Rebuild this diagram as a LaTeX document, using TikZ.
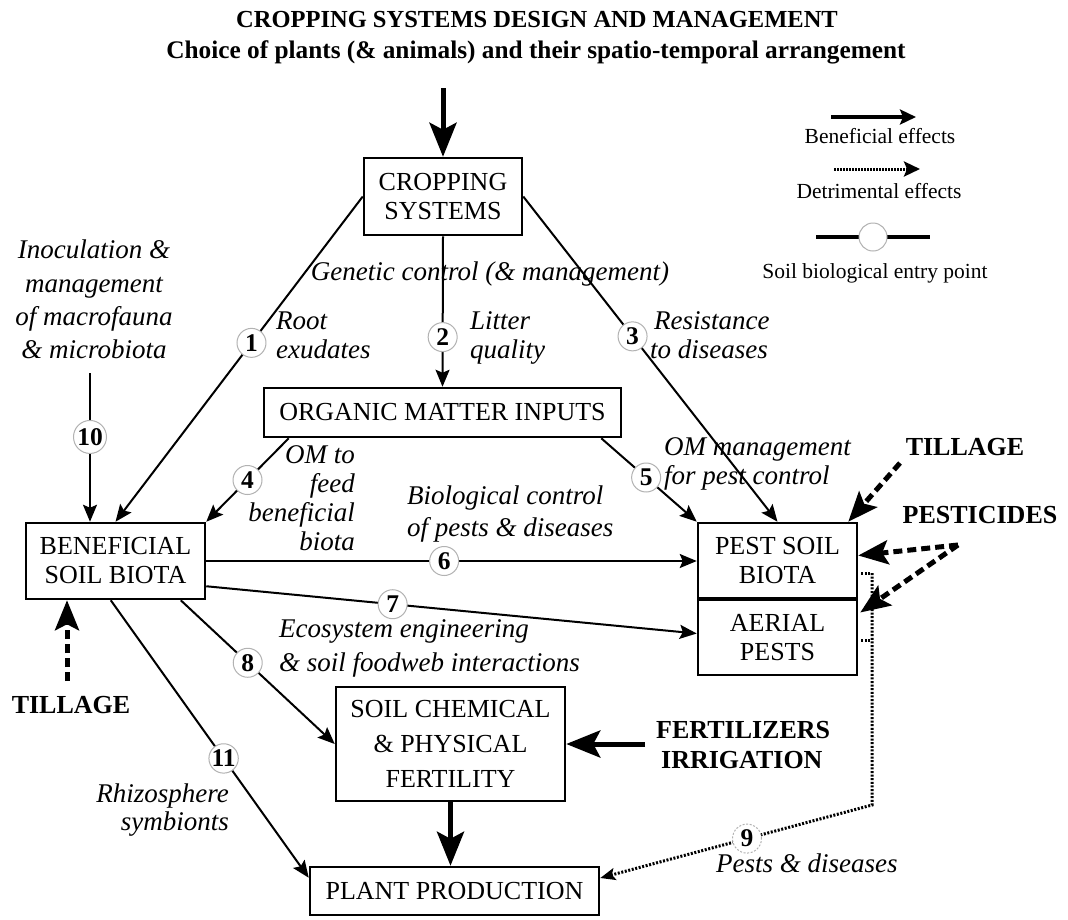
\documentclass[tikz,border=0pt]{standalone}
\usepackage{fontspec}
\setmainfont{Liberation Serif}
\usetikzlibrary{arrows.meta,calc}
\begin{document}
\begin{tikzpicture}[x=1pt,y=-1pt,
  box/.style={draw,line width=2.5pt,fill=white,align=center,inner sep=0pt,font=\fontsize{26}{29}\selectfont},
  lab/.style={inner sep=0pt,font=\fontsize{27}{29}\selectfont\itshape},
  ext/.style={inner sep=0pt,font=\fontsize{26}{30}\selectfont\bfseries},
  leg/.style={inner sep=0pt,font=\fontsize{21.5}{24}\selectfont},
  num/.style={circle,draw=black!30,line width=1pt,fill=white,inner sep=0pt,minimum size=29pt,font=\fontsize{25.5}{25.5}\selectfont\bfseries},
  arr/.style={line width=2pt,-{Stealth[length=17pt,width=14pt,inset=3pt]}},
  bigarr/.style={line width=5pt,-{Stealth[length=34pt,width=27pt,inset=7pt]}},
  dasharr/.style={line width=5pt,dash pattern=on 9pt off 5pt,-{Stealth[length=30pt,width=24pt,inset=6pt]}},
  dotline/.style={line width=3pt,dash pattern=on 2pt off 1.6pt},
  dotarr/.style={dotline,-{Stealth[length=15pt,width=12pt,inset=3pt]}},
]
\useasboundingbox (0,0) rectangle (1068,919);
\fill[white] (0,0) rectangle (1068,919);

% title
\node[inner sep=0pt,font=\fontsize{24.5}{28}\selectfont\bfseries,anchor=base] (t1) at (537,27) {CROPPING SYSTEMS DESIGN AND MANAGEMENT};
\node[inner sep=0pt,font=\fontsize{25.3}{28}\selectfont\bfseries,anchor=base] (t2) at (536,58) {Choice of plants (\& animals) and their spatio-temporal arrangement};

% legend
\coordinate (lb1) at (831,117); \coordinate (lb2) at (916,117);
\draw[line width=4pt,-{Stealth[length=16pt,width=15pt,inset=3pt]}] (lb1) -- (lb2);
\node[leg,anchor=base] (lbt) at (880,143) {Beneficial effects};
\coordinate (ld1) at (834,169); \coordinate (ld2) at (920,169);
\draw[line width=3pt,dash pattern=on 1.5pt off 1.5pt,-{Stealth[length=16pt,width=15pt,inset=3pt]}] (ld1) -- (ld2);
\node[leg,anchor=base] (ldt) at (879,198) {Detrimental effects};
\coordinate (le1) at (816,237); \coordinate (le2) at (930,237);
\draw[line width=4pt] (le1) -- node[circle,draw=black!30,fill=white,minimum size=28pt,line width=1pt,inner sep=0pt] (lec) {} (le2);
\node[leg,anchor=base] (let) at (875,278) {Soil biological entry point};

% boxes
\node[box,minimum width=158pt,minimum height=77pt] (crop) at (443,196.5) {CROPPING\\SYSTEMS};
\node[box,minimum width=357pt,minimum height=49pt] (org) at (442.5,412.5) {ORGANIC MATTER INPUTS};
\node[box,minimum width=179pt,minimum height=76pt] (ben) at (115.5,561) {BENEFICIAL\\SOIL BIOTA};
\node[box,minimum width=159pt,minimum height=75pt] (pest) at (777.5,560.5) {PEST SOIL\\BIOTA};
\node[box,minimum width=159pt,minimum height=75pt] (aer) at (777.5,637.5) {AERIAL\\PESTS};
\node[box,minimum width=229pt,minimum height=114pt,font=\fontsize{26}{35}\selectfont] (soil) at (450.5,744) {SOIL CHEMICAL\\\& PHYSICAL\\FERTILITY};
\node[box,minimum width=289pt,minimum height=48pt] (plant) at (454.5,891) {PLANT PRODUCTION};

% labels
\node[lab,anchor=base] (gen) at (490,280) {Genetic control (\& management)};
\node[lab,anchor=base] (in1) at (94,258) {Inoculation \&};
\node[lab,anchor=base] (in2) at (94,292) {management};
\node[lab,anchor=base] (in3) at (94,325) {of macrofauna};
\node[lab,anchor=base] (in4) at (94,358) {\& microbiota};
\node[lab,anchor=base west] (r1) at (276,329) {Root};
\node[lab,anchor=base west] (r2) at (276,358) {exudates};
\node[lab,anchor=base west] (li1) at (470,329) {Litter};
\node[lab,anchor=base west] (li2) at (470,358) {quality};
\node[lab,anchor=base west] (re1) at (654,329) {Resistance};
\node[lab,anchor=base west] (re2) at (650,358) {to diseases};
\node[lab,anchor=base east] (om1) at (355,463) {OM to};
\node[lab,anchor=base east] (om2) at (355,492) {feed};
\node[lab,anchor=base east] (om3) at (355,521) {beneficial};
\node[lab,anchor=base east] (om4) at (355,550) {biota};
\node[lab,anchor=base west] (pm1) at (664,455) {OM management};
\node[lab,anchor=base west] (pm2) at (664,484) {for pest control};
\node[lab,anchor=base west] (bc1) at (407,504) {Biological control};
\node[lab,anchor=base west] (bc2) at (407,536) {of pests \& diseases};
\node[lab,anchor=base west] (ec1) at (279,637) {Ecosystem engineering};
\node[lab,anchor=base west] (ec2) at (279,671) {\& soil foodweb interactions};
\node[lab,anchor=base east] (rh1) at (229,802) {Rhizosphere};
\node[lab,anchor=base east] (rh2) at (229,830) {symbionts};
\node[lab,anchor=base west] (pd) at (716,872) {Pests \& diseases};

% external inputs
\node[ext,anchor=base] (tl) at (71,713) {TILLAGE};
\node[ext,anchor=base] (tr) at (965,455) {TILLAGE};
\node[ext,anchor=base] (pe) at (980,523) {PESTICIDES};
\node[ext,anchor=base west] (fe1) at (656,738) {FERTILIZERS};
\node[ext,anchor=base west] (fe2) at (661,768) {IRRIGATION};

% connectors
\coordinate (ta) at (443,88);
\draw[bigarr] (ta) -- (crop.north);
\draw[arr] (crop.west) -- node[num,pos=.45] (n1) {1} (ben.north);
\draw[arr] (crop.south) -- node[num,pos=.67] (n2) {2} (org.north);
\draw[arr] (crop.east) -- node[num,pos=.43] (n3) {3} (pest.north);
\coordinate (c10) at (90,373);
\draw[arr] (c10) -- node[num,pos=.43,minimum size=33pt] (n10) {10} (c10 |- ben.north);
\draw[arr] ($(org.south west)+(26,0)$) -- node[num,pos=.5] (n4) {4} (ben.north east);
\draw[arr] ($(org.south east)+(-21,0)$) -- node[num,pos=.47] (n5) {5} (pest.north west);
\draw[arr] (ben.east) -- node[num,pos=.485] (n6) {6} (ben.east -| pest.west);
\draw[arr] ($(ben.south east)+(0,-14)$) -- node[num,pos=.38] (n7) {7} ($(aer.west)+(0,-4)$);
\draw[arr] ($(ben.south west)+(156,0)$) -- node[num,pos=.435] (n8) {8} (soil.west);
\draw[arr] ($(ben.south west)+(86,0)$) -- node[num,pos=.57] (n11) {11} ($(plant.north west)+(0,12)$);
\draw[bigarr] (soil.south) -- (soil.south |- plant.north);
\coordinate (fa) at (645,744);
\draw[bigarr] (fa) -- (soil.east);

% detrimental inputs
\coordinate (tla) at (67,681);
\draw[dasharr] (tla) -- (tla |- ben.south);
\coordinate (tra) at (900,463);
\draw[dasharr] (tra) -- ($(pest.north east)+(-10,0)$);
\coordinate (pa) at (958,545);
\draw[dasharr] (pa) -- ($(pest.east)+(0,-5)$);
\draw[dasharr] (pa) -- ($(aer.east)+(2,-25)$);

% pests & diseases
\coordinate (d1) at (872,573);
\coordinate (d2) at (872,640);
\coordinate (d3) at (872,805);
\draw[dotline] ($(pest.east)+(3,12.5)$) -- (d1);
\draw[dotline] ($(aer.east)+(3,2.5)$) -- (d2);
\draw[dotarr] (d1) -- (d3) -- node[num,pos=.46] (n9) {9} ($(plant.east)+(0,-13)$);
\end{tikzpicture}
\end{document}
